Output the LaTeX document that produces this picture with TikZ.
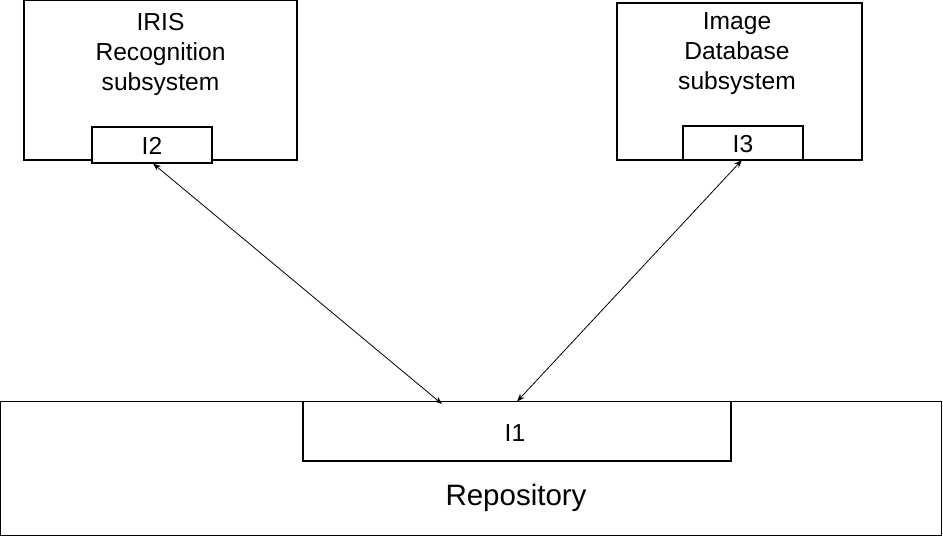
\documentclass[tikz,border=0pt]{standalone}
\usepackage{fontspec}
\setmainfont{Liberation Sans}
\usetikzlibrary{arrows.meta,calc}
\begin{document}
\begin{tikzpicture}[x=1pt,y=-1pt,
  box/.style={draw=black,line width=1.2pt,fill=white,inner sep=0pt},
  lbl/.style={font=\fontsize{24.6}{30}\selectfont,align=center,inner sep=0pt},
  link/.style={line width=0.8pt,{Stealth[length=8pt,width=6pt]}-{Stealth[length=8pt,width=6pt]}}]
\useasboundingbox (0,0) rectangle (943,537);
% IRIS subsystem
\draw[box] (24,0.8) rectangle (297,160);
\node[lbl] (iris) at (160.5,54.5) {IRIS\\Recognition\\subsystem};
\draw[box] (92,127) rectangle (212,163);
\node[lbl] (i2) at (152,145.5) {I2};
\coordinate (i2b) at (153,163.5);
% Image database subsystem
\draw[box] (617,3) rectangle (862,160);
\node[lbl] (imgdb) at (737,54) {Image\\Database\\subsystem};
\draw[box] (683,126) rectangle (803,160);
\node[lbl] (i3) at (743,144) {I3};
\coordinate (i3b) at (742,160);
% Repository
\draw[box] (0.6,401.5) rectangle (941.4,535.4);
\draw[box] (303,401.5) rectangle (731,461);
\node[lbl] (i1) at (515,433) {I1};
\node[lbl,font=\fontsize{29.5}{34}\selectfont] (repo) at (516,498) {Repository};
\coordinate (i1l) at (442,404);
\coordinate (i1r) at (517,401.5);
% connectors
\draw[link] (i2b) -- (i1l);
\draw[link] (i3b) -- (i1r);
\end{tikzpicture}
\end{document}
